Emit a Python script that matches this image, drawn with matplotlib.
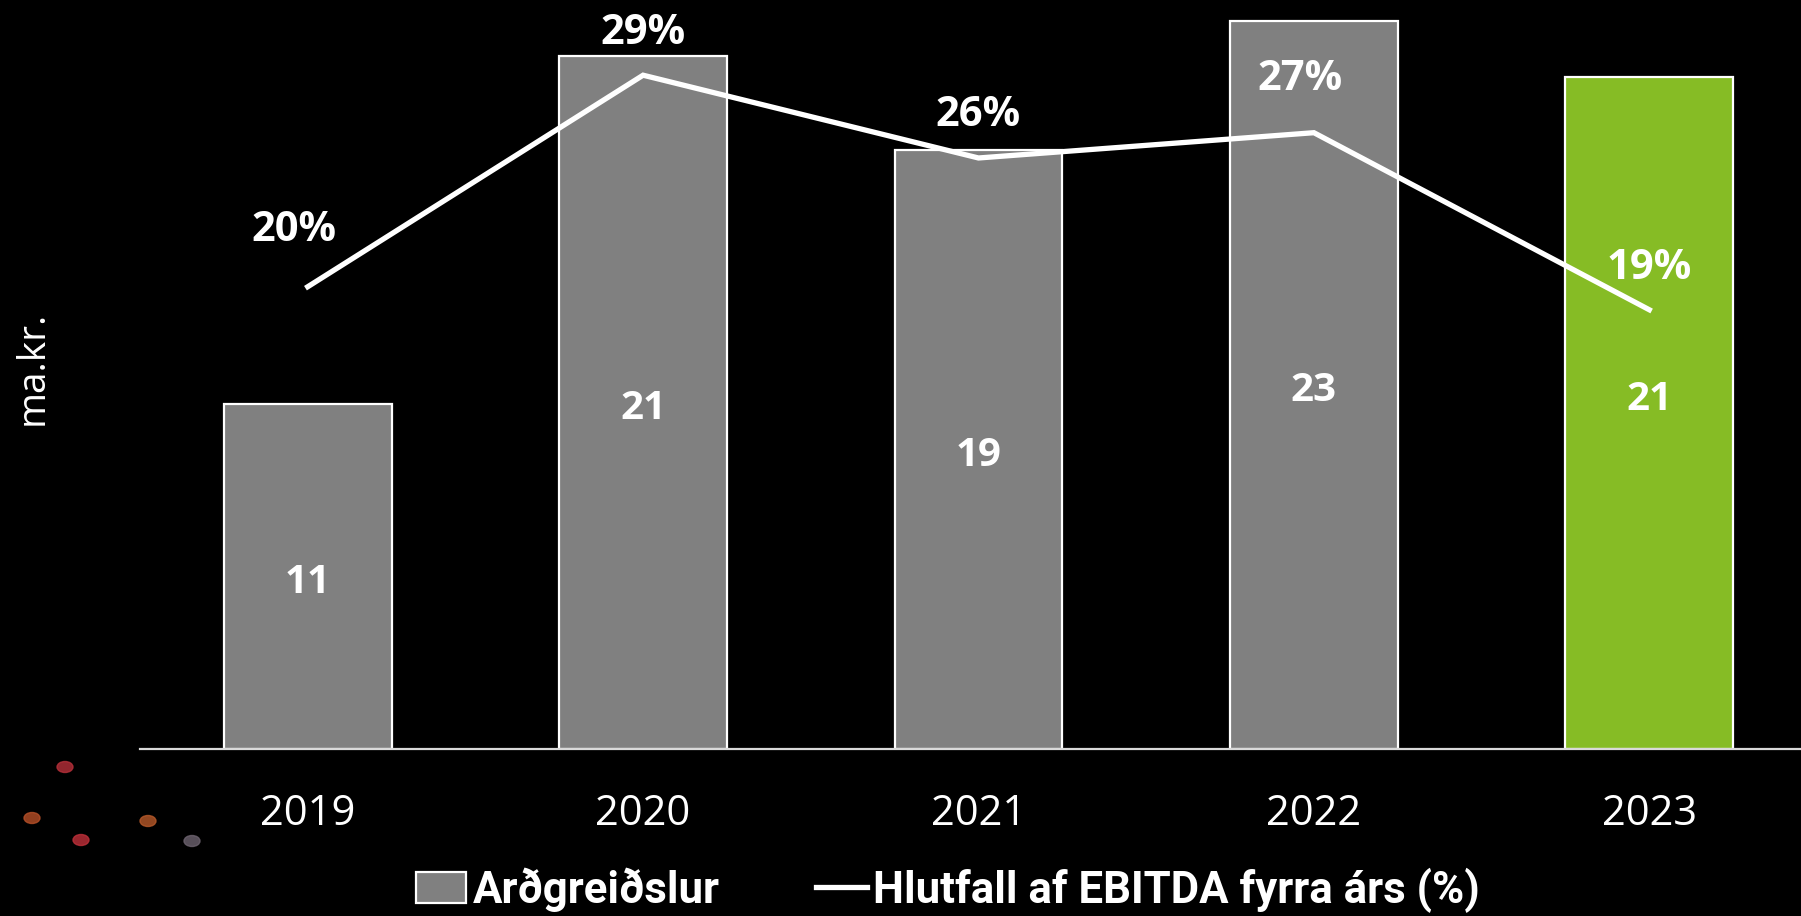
import matplotlib.pyplot as plt
from matplotlib.lines import Line2D
from matplotlib.patches import Patch, Ellipse

# Arðgreiðslur (ma.kr.) og hlutfall af EBITDA fyrra árs
years = ["2019", "2020", "2021", "2022", "2023"]
payouts = [10.7, 21.45, 18.55, 22.55, 20.8]
payout_labels = ["11", "21", "19", "23", "21"]
ratio_pct = [20.1, 29.3, 25.7, 26.8, 19.1]
ratio_labels = ["20%", "29%", "26%", "27%", "19%"]

W, H, DPI = 1801, 916, 100
GREY = "#808080"
GREEN = "#86bc25"
BOLD = ["Open Sans", "DejaVu Sans"]

fig = plt.figure(figsize=(W / DPI, H / DPI), dpi=DPI, facecolor="black")
ax = fig.add_axes([140 / W, 1 - 749 / H, 1677 / W, 749 / H])
ax.set_facecolor("black")

x = range(len(years))
colors = [GREY] * (len(years) - 1) + [GREEN]
bars = ax.bar(x, payouts, width=0.5, color=colors, edgecolor="white", linewidth=1.6, zorder=2)
ax.set_xlim(-0.5, 4.5)
ax.set_ylim(0, 23.2)

# last label sits a little higher in the original
val_dy = [-6, -6, -6, -6, 14]
for b, lab, dy in zip(bars, payout_labels, val_dy):
    ax.annotate(lab, (b.get_x() + b.get_width() / 2, b.get_height() / 2),
                xytext=(0, dy * 72 / DPI), textcoords="offset points", ha="center", va="center",
                color="white", fontsize=29, fontweight="bold", family=BOLD, zorder=4)

ax2 = ax.twinx()
ax2.set_ylim(0, 32.57)
ax2.plot(x, ratio_pct, color="white", linewidth=3.8, solid_joinstyle="miter", zorder=3)
# label offsets (px) above each point
offs = [(-14, 56), (0, 42), (0, 42), (-14, 53), (0, 41)]
for xi, v, lab, (dx, dy) in zip(x, ratio_pct, ratio_labels, offs):
    ax2.annotate(lab, (xi, v), xytext=(dx * 72 / DPI, dy * 72 / DPI), textcoords="offset points",
                 ha="center", va="center", color="white", fontsize=30, fontweight="bold", family=BOLD)

for a in (ax, ax2):
    for s in ("top", "right", "left"):
        a.spines[s].set_visible(False)
    a.set_yticks([])
ax2.spines["bottom"].set_visible(False)
ax.spines["bottom"].set_color("#d9d9d9")
ax.spines["bottom"].set_linewidth(1.6)
ax.set_xticks(list(x))
ax.set_xticklabels(years, color="white", fontsize=30, family=["Open Sans", "DejaVu Sans"])
ax.tick_params(axis="x", length=0, pad=32)

fig.text(33 / W, 1 - 368 / H, "ma.kr.", rotation=90, ha="center", va="center", color="white",
         fontsize=28, family=["Open Sans", "DejaVu Sans"])

handles = [Patch(facecolor=GREY, edgecolor="white", linewidth=1.6),
           Line2D([], [], color="white", linewidth=3.8)]
leg = fig.legend(handles, ["Arðgreiðslur", "Hlutfall af EBITDA fyrra árs (%)"], loc="center",
                 bbox_to_anchor=(948 / W, 1 - 890 / H), ncol=2, frameon=False,
                 handlelength=1.15, handleheight=0.72, handletextpad=0.15, columnspacing=2.2,
                 prop={"family": ["Roboto", "DejaVu Sans"], "weight": "bold", "size": 31.5})
for t in leg.get_texts():
    t.set_color("white")

# faint decorative dots from the slide background
for (cx, cy, c) in [(65, 767, "#b8303a"), (32, 818, "#b85028"), (81, 840, "#c0303a"),
                    (148, 821, "#b85a2a"), (192, 841, "#6e6470")]:
    fig.patches.append(Ellipse((cx / W, 1 - cy / H), 16 / W, 11 / H, color=c, alpha=0.8,
                               transform=fig.transFigure, figure=fig))

fig.savefig("out.png", dpi=DPI, facecolor="black")
